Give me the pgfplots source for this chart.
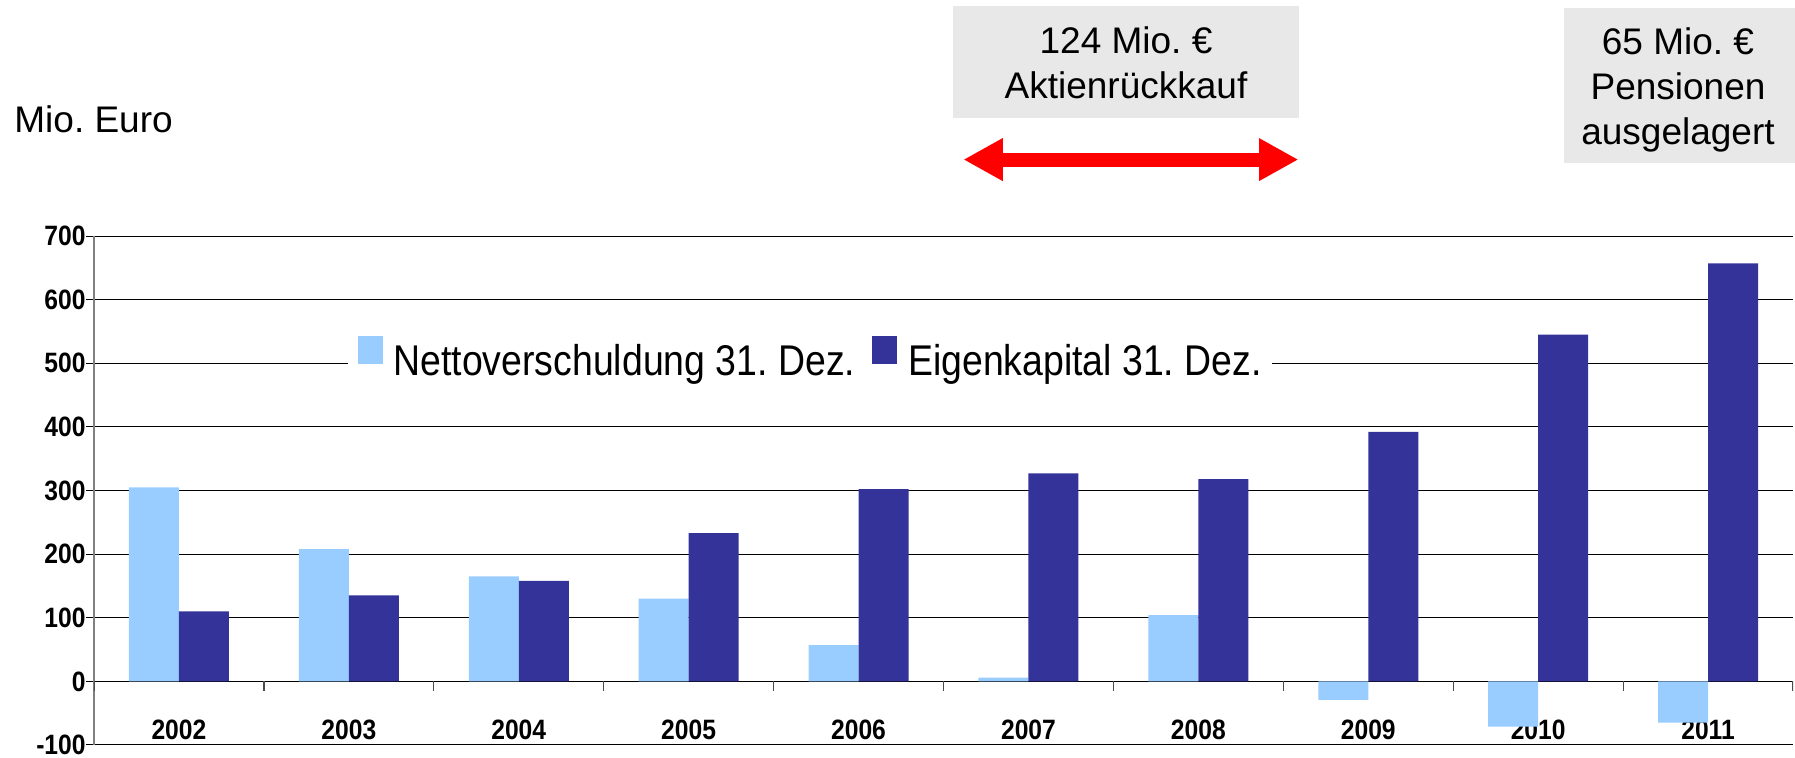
\documentclass[border=0pt]{standalone}
\usepackage{pgfplots}
\pgfplotsset{compat=1.18}
\usetikzlibrary{arrows.meta}
\usepackage{fontspec}
\setmainfont{Liberation Sans}
\newfontfamily\narrowfont[FakeStretch=0.87]{Liberation Sans}
\newfontfamily\tickfont[FakeStretch=0.88]{Liberation Sans}
\definecolor{lightbar}{HTML}{99CCFF}
\definecolor{darkbar}{HTML}{333399}
\definecolor{boxgray}{HTML}{E8E8E8}
\frenchspacing
\begin{document}
\begin{tikzpicture}
\useasboundingbox (0,0) rectangle (897.5pt,379pt);
\begin{axis}[
  at={(47pt,6.5pt)}, anchor=south west,
  scale only axis, width=849.5pt, height=254.5pt,
  ybar=0pt, bar width=25pt,
  xmin=-0.5, xmax=9.5, ymin=-100, ymax=700,
  xtick={0,...,9},
  xticklabels={2002,2003,2004,2005,2006,2007,2008,2009,2010,2011},
  xtick style={draw=none},
  xticklabel style={anchor=center, yshift=11.5pt, inner sep=0pt, font=\tickfont\bfseries\fontsize{14}{16}\selectfont},
  ytick={-100,0,100,200,300,400,500,600,700},
  /pgf/number format/assume math mode=true,
  yticklabel style={anchor=east, inner sep=0pt, font=\tickfont\bfseries\fontsize{14}{16}\selectfont},
  ytick align=outside, major tick length=4pt,
  ytick style={black, line width=0.5pt},
  ymajorgrids, major grid style={black, line width=0.5pt},
  axis x line*=bottom, axis y line*=left,
  x axis line style={-, black, line width=0.5pt},
  y axis line style={-, gray, line width=1pt},
  legend columns=2,
  legend style={at={(0.149,0.762)}, anchor=west, draw=none, fill=white,
    inner xsep=5pt, inner ysep=1pt,
    font=\narrowfont\fontsize{21.5}{24}\selectfont,
    nodes={inner sep=0pt},
    /tikz/every odd column/.append style={column sep=5.5pt},
    /tikz/every even column/.append style={column sep=8.5pt}},
]
\addplot[fill=lightbar, draw=none, legend image code/.code={\fill[lightbar] (0pt,-1pt) rectangle (12.5pt,13pt);}]
  coordinates {(0,305) (1,208) (2,165) (3,130) (4,57) (5,6) (6,104) (7,-29) (8,-71) (9,-65)};
\addplot[fill=darkbar, draw=none, legend image code/.code={\fill[darkbar] (0pt,-1pt) rectangle (12.5pt,13pt);}]
  coordinates {(0,110) (1,135) (2,158) (3,233) (4,302) (5,327) (6,318) (7,392) (8,545) (9,657)};
\legend{Nettoverschuldung 31. Dez., Eigenkapital 31. Dez.}
\pgfplotsinvokeforeach{-0.5,0.5,1.5,2.5,3.5,4.5,5.5,6.5,7.5,8.5,9.5}{
  \draw[black!70, line width=0.6pt] (axis cs:#1,0) -- ([yshift=-5pt]axis cs:#1,0);
}
\end{axis}
% annotations
\node[anchor=base west, inner sep=0pt, font=\fontsize{18.5}{21}\selectfont] at (7pt,312.5pt) {Mio. Euro};
\fill[boxgray] (476.5pt,320pt) rectangle (649.5pt,376pt);
\node[anchor=base, inner sep=0pt, font=\fontsize{18.5}{21}\selectfont] at (563pt,352.3pt) {124 Mio. €};
\node[anchor=base, inner sep=0pt, font=\fontsize{18.5}{21}\selectfont] at (563pt,329.8pt) {Aktienrückkauf};
\draw[red, line width=7pt, {Triangle[length=19.7pt,width=20pt]}-{Triangle[length=19.7pt,width=20pt]}] (481.7pt,299.2pt) -- (649.2pt,299.2pt);
\fill[boxgray] (782pt,297.5pt) rectangle (897.5pt,375pt);
\node[anchor=base, inner sep=0pt, font=\fontsize{18.5}{21}\selectfont] at (839pt,351.5pt) {65 Mio. €};
\node[anchor=base, inner sep=0pt, font=\fontsize{18.5}{21}\selectfont] at (839pt,329pt) {Pensionen};
\node[anchor=base, inner sep=0pt, font=\fontsize{18.5}{21}\selectfont] at (839pt,306.5pt) {ausgelagert};
\end{tikzpicture}
\end{document}
